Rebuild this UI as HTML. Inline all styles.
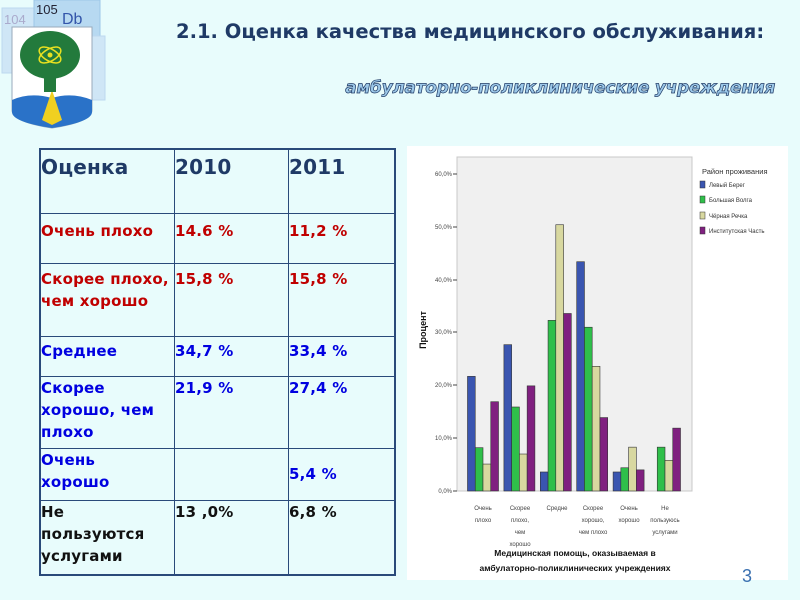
<!DOCTYPE html>
<html><head><meta charset="utf-8"><style>
body{margin:0;width:800px;height:600px;background:#e8fcfc;position:relative;overflow:hidden;font-family:"DejaVu Sans",sans-serif}
.t{position:absolute;left:176px;top:20px;font:bold 19.5px "DejaVu Sans",sans-serif;color:#1f3a66}
.s{position:absolute;right:25px;top:78px;font:italic bold 17px "DejaVu Sans",sans-serif;color:#9cc8e8;-webkit-text-stroke:0.7px #1f3a66;letter-spacing:-0.3px}
table{position:absolute;left:39px;top:148px;border-collapse:collapse;border:2px solid #2a4a7a}
td{border:1px solid #2a4a7a;vertical-align:top;padding:0;font:bold 15px/22px "DejaVu Sans",sans-serif;letter-spacing:0.2px}
.r{color:#c00000}.b{color:#0000e0}.k{color:#111}.h{color:#1f3a66;font-size:20px;line-height:26px;padding-top:4px}
</style></head><body>
<svg style="position:absolute;left:0;top:0" width="110" height="135">
<rect x="2" y="8" width="35" height="65" fill="#cfe6f6" stroke="#bcd8ef"/>
<rect x="34" y="0" width="66" height="72" fill="#b7d9f1" stroke="#9cc6e8"/>
<rect x="80" y="36" width="25" height="64" fill="#cfe6f6" stroke="#bcd8ef"/>
<text x="4" y="24" font-size="13" fill="#aac" font-family="Liberation Sans">104</text>
<text x="36" y="14" font-size="13" fill="#223" font-family="Liberation Sans">105</text>
<text x="62" y="24" font-size="16" fill="#3355aa" font-family="Liberation Sans">Db</text>
<path d="M12 27H92V110Q92 122 52 128Q12 122 12 110Z" fill="#fff" stroke="#9ab" />
<path d="M12 100Q30 92 52 98Q72 92 92 100V112Q92 122 52 128Q12 122 12 112Z" fill="#2a72c8"/>
<path d="M52 90L42 120L52 125L62 120Z" fill="#f0d020"/>
<ellipse cx="50" cy="55" rx="30" ry="24" fill="#237a3c"/>
<rect x="44" y="70" width="12" height="22" fill="#237a3c"/>
<ellipse cx="50" cy="55" rx="12" ry="6" fill="none" stroke="#e8e020" stroke-width="1.5" transform="rotate(30 50 55)"/>
<ellipse cx="50" cy="55" rx="12" ry="6" fill="none" stroke="#e8e020" stroke-width="1.5" transform="rotate(-30 50 55)"/>
<circle cx="50" cy="55" r="2.5" fill="#e8e020"/>
</svg>
<div class="t">2.1. Оценка качества медицинского обслуживания:</div>
<div class="s">амбулаторно-поликлинические учреждения</div>
<table>
<tr style="height:64px"><td class="h" style="width:133px">Оценка</td><td class="h" style="width:113px">2010</td><td class="h" style="width:105px">2011</td></tr>
<tr style="height:50px"><td class="r" style="padding-top:6px">Очень плохо</td><td class="r" style="padding-top:6px">14.6 %</td><td class="r" style="padding-top:6px">11,2 %</td></tr>
<tr style="height:73px"><td class="r" style="padding-top:4px">Скорее плохо, чем хорошо</td><td class="r" style="padding-top:4px">15,8 %</td><td class="r" style="padding-top:4px">15,8 %</td></tr>
<tr style="height:40px"><td class="b" style="padding-top:3px">Среднее</td><td class="b" style="padding-top:3px">34,7 %</td><td class="b" style="padding-top:3px">33,4 %</td></tr>
<tr style="height:72px"><td class="b">Скорее хорошо, чем плохо</td><td class="b">21,9 %</td><td class="b">27,4 %</td></tr>
<tr style="height:52px"><td class="b">Очень<br>хорошо</td><td></td><td class="b" style="vertical-align:middle">5,4 %</td></tr>
<tr style="height:75px"><td class="k">Не<br>пользуются<br>услугами</td><td class="k">13 ,0%</td><td class="k">6,8 %</td></tr>
</table>
<svg style="position:absolute;left:407px;top:146px" width="381" height="434" font-family="Liberation Sans">
<rect width="381" height="434" fill="#fff"/>
<g transform="translate(-407,-146)">
<rect x="457" y="157" width="235" height="334" fill="#f0f0f0" stroke="#c8c8c8"/>
<g font-size="6" fill="#444" text-anchor="end">
<text x="452" y="176">60,0%</text><text x="452" y="229">50,0%</text><text x="452" y="282">40,0%</text><text x="452" y="334">30,0%</text><text x="452" y="387">20,0%</text><text x="452" y="440">10,0%</text><text x="452" y="493">0,0%</text>
</g>
<g stroke="#444"><path d="M453 174h4M453 227h4M453 280h4M453 332h4M453 385h4M453 438h4M453 491h4"/></g>
<text transform="translate(426,330) rotate(-90)" font-size="9" font-weight="bold" text-anchor="middle" fill="#111">Процент</text>
<g id="bars" stroke="#333" stroke-width="0.6"></g>
<g font-size="6" fill="#444" text-anchor="middle">
<text x="483" y="510">Очень</text><text x="483" y="522">плохо</text>
<text x="520" y="510">Скорее</text><text x="520" y="522">плохо,</text><text x="520" y="534">чем</text><text x="520" y="546">хорошо</text>
<text x="557" y="510">Средне</text>
<text x="593" y="510">Скорее</text><text x="593" y="522">хорошо,</text><text x="593" y="534">чем плохо</text>
<text x="629" y="510">Очень</text><text x="629" y="522">хорошо</text>
<text x="665" y="510">Не</text><text x="665" y="522">пользуюсь</text><text x="665" y="534">услугами</text>
</g>
<g font-size="8.5" font-weight="bold" fill="#111" text-anchor="middle">
<text x="575" y="556">Медицинская помощь, оказываемая в</text>
<text x="575" y="571">амбулаторно-поликлинических учреждениях</text>
</g>
<text x="702" y="174" font-size="7.5" fill="#333">Район проживания</text>
<g font-size="6" fill="#333">
<rect x="700" y="181" width="5" height="7" fill="#3a55b0" stroke="#333" stroke-width="0.5"/><text x="709" y="187">Левый Берег</text>
<rect x="700" y="196" width="5" height="7" fill="#2fbf4a" stroke="#333" stroke-width="0.5"/><text x="709" y="202">Большая Волга</text>
<rect x="700" y="212" width="5" height="7" fill="#d8d8a0" stroke="#333" stroke-width="0.5"/><text x="709" y="218">Чёрная Речка</text>
<rect x="700" y="227" width="5" height="7" fill="#802080" stroke="#333" stroke-width="0.5"/><text x="709" y="233">Институтская Часть</text>
</g>
</g>
</svg>
<div style="position:absolute;left:742px;top:566px;font:18px 'Liberation Sans',sans-serif;color:#3a70b0">3</div>
<script>
var d=[[21.7,8.2,5.1,16.9],[27.7,15.9,7.0,19.9],[3.6,32.3,50.4,33.6],[43.4,31.0,23.6,13.9],[3.6,4.4,8.3,4.0],[0,8.3,5.8,11.9]];
var c=["#3a55b0","#2fbf4a","#d8d8a0","#802080"],s="";
d.forEach(function(g,i){var cx=483+i*36.4;g.forEach(function(v,j){var h=v*5.283;var x=cx-15.5+j*7.75;
s+='<rect x="'+x+'" y="'+(491-h)+'" width="7.75" height="'+h+'" fill="'+c[j]+'"/>';});});
document.getElementById("bars").innerHTML=s;
</script>
</body></html>
